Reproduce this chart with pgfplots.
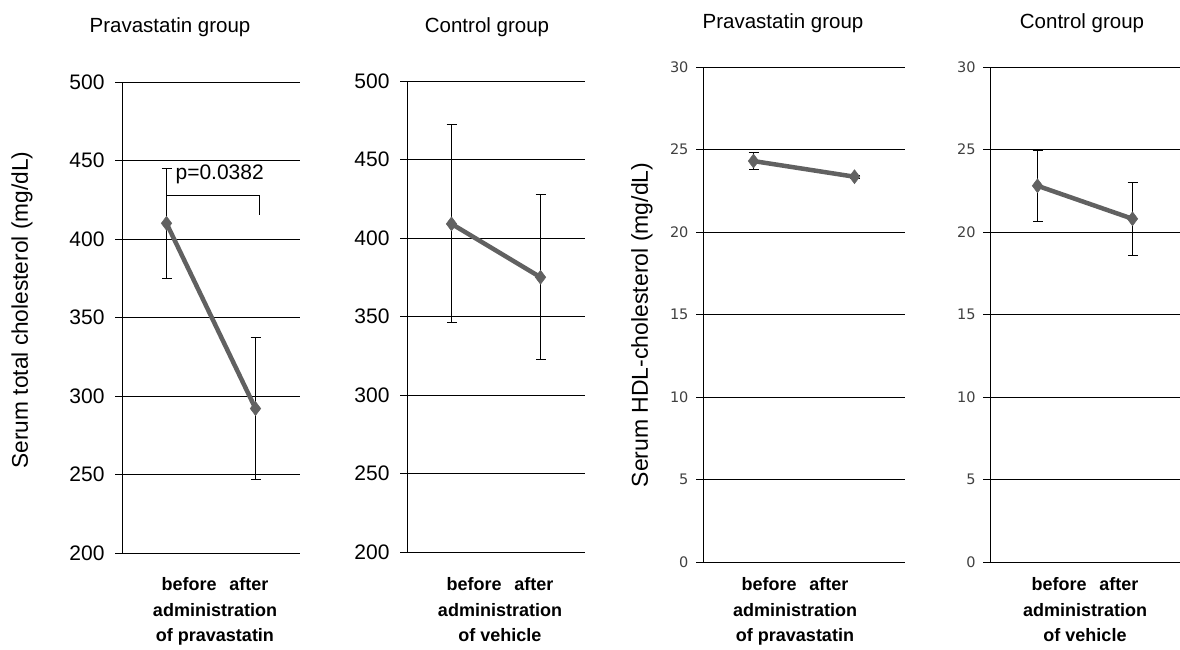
\documentclass[border=0pt]{standalone}
\usepackage{pgfplots}
\pgfplotsset{compat=1.18}
\usepackage{fontspec}
\setmainfont{Liberation Sans}
\newfontfamily\dv{DejaVu Sans}
\definecolor{lineg}{gray}{0.38}
\pgfplotsset{
  panel/.style={
    scale only axis, axis lines*=left, clip=false,
    xmin=0.5, xmax=2.5, xtick=\empty,
    ymajorgrids, grid style={black, line width=1pt},
    axis line style={black, line width=1pt},
    tick style={black, line width=1pt},
    major tick length=7pt, tick align=outside, ytick pos=left,
    /pgf/number format/assume math mode=true,
  },
  leftp/.style={panel, width=178pt, height=471pt, ymin=200, ymax=500, ytick={200,250,...,500},
    yticklabel style={font=\fontsize{21}{24}\selectfont, xshift=-7pt}},
  rightp/.style={panel, height=495pt, ymin=0, ymax=30, ytick={0,5,...,30},
    yticklabel style={font=\dv\fontsize{14.5}{16}\selectfont, text=black!75, xshift=-4pt}},
  series/.style={color=lineg, line width=4.5pt, mark=diamond*, mark size=7pt,
    mark options={fill=lineg, draw=lineg, line width=0.5pt, solid},
    error bars/.cd, y dir=both, y explicit,
    error bar style={black, line width=1pt},
    error mark=-,
    error mark options={black, line width=1pt, mark size=5pt, rotate=90}},
}
\begin{document}
\begin{tikzpicture}[x=1pt,y=1pt]
\useasboundingbox (0,0) rectangle (1180,649);
% Panel 1
\begin{axis}[leftp, at={(122pt,96pt)}, anchor=south west]
\addplot[series] coordinates {(1,410) +- (0,35) (2,292) +- (0,45.5)};
\draw[black, line width=1pt] (axis cs:1,420) -- (axis cs:1,428) -- (axis cs:2.05,428) -- (axis cs:2.05,415);
\node[anchor=west, font=\fontsize{21}{24}\selectfont, inner sep=0pt] at (axis cs:1.1,441) {p=0.0382};
\end{axis}
% Panel 2
\begin{axis}[leftp, at={(407pt,97pt)}, anchor=south west]
\addplot[series] coordinates {(1,409) +- (0,63) (2,375) +- (0,52.5)};
\end{axis}
% Panel 3
\begin{axis}[rightp, width=202pt, at={(703pt,87pt)}, anchor=south west]
\addplot[series] coordinates {(1,24.3) +- (0,0.53) (2,23.35) +- (0,0.1)};
\end{axis}
% Panel 4
\begin{axis}[rightp, width=190pt, at={(990pt,87pt)}, anchor=south west]
\addplot[series] coordinates {(1,22.8) +- (0,2.15) (2,20.8) +- (0,2.2)};
\end{axis}
% titles
\begin{scope}[every node/.style={font=\fontsize{20.5}{24}\selectfont}]
\node at (170,622) {Pravastatin group};
\node at (487,622) {Control group};
\node at (783,626) {Pravastatin group};
\node at (1082,626) {Control group};
\end{scope}
% y labels
\node[rotate=90, font=\fontsize{22.7}{26}\selectfont] at (22,339) {Serum total cholesterol (mg/dL)};
\node[rotate=90, font=\fontsize{23}{26}\selectfont] at (642,324) {Serum HDL-cholesterol (mg/dL)};
% x labels
\begin{scope}[every node/.style={align=center, anchor=north, font=\bfseries\fontsize{18}{25.5}\selectfont}]
\node at (215,75) {before\hspace{0.7em}after\\administration\\of pravastatin};
\node at (500,75) {before\hspace{0.7em}after\\administration\\of vehicle};
\node at (795,75) {before\hspace{0.7em}after\\administration\\of pravastatin};
\node at (1085,75) {before\hspace{0.7em}after\\administration\\of vehicle};
\end{scope}
\end{tikzpicture}
\end{document}
